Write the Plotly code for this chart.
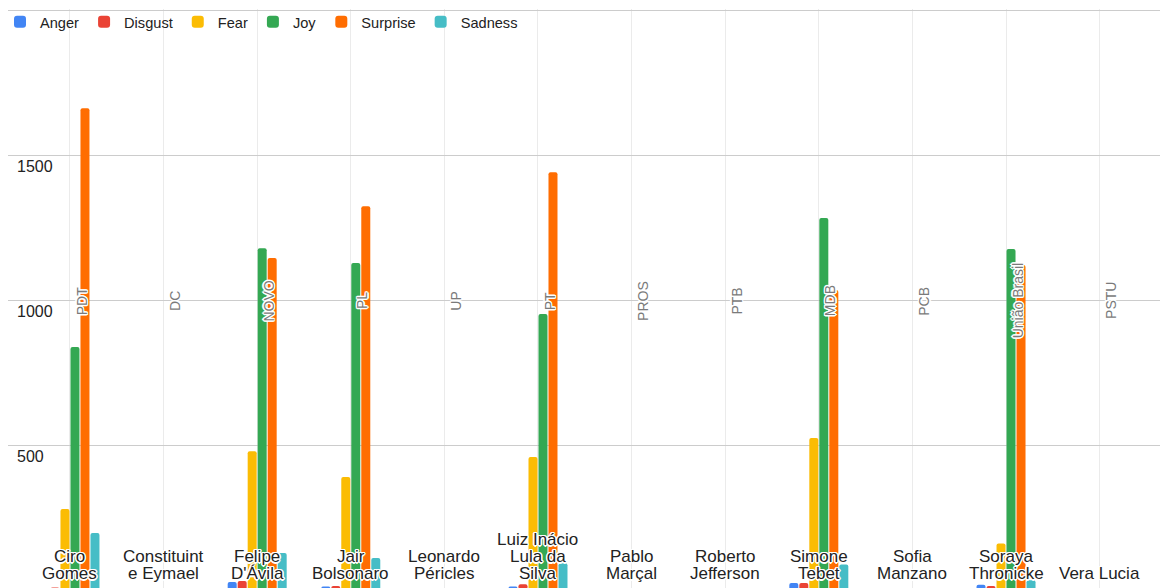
import plotly.graph_objects as go

# Candidates, their parties and how each name wraps under its bar group
candidates = ["Ciro Gomes", "Constituinte Eymael", "Felipe D'Ávila", "Jair Bolsonaro",
              "Leonardo Péricles", "Luiz Inácio Lula da Silva", "Pablo Marçal",
              "Roberto Jefferson", "Simone Tebet", "Sofia Manzano",
              "Soraya Thronicke", "Vera Lucia"]
parties = ["PDT", "DC", "NOVO", "PL", "UP", "PT", "PROS", "PTB", "MDB", "PCB",
           "União Brasil", "PSTU"]
label_lines = [["Ciro", "Gomes"], ["Constituint", "e Eymael"], ["Felipe", "D'Ávila"],
               ["Jair", "Bolsonaro"], ["Leonardo", "Péricles"],
               ["Luiz Inácio", "Lula da", "Silva"], ["Pablo", "Marçal"],
               ["Roberto", "Jefferson"], ["Simone", "Tebet"], ["Sofia", "Manzano"],
               ["Soraya", "Thronicke"], ["Vera Lucia"]]

# Emotion counts per candidate
anger    = [6, 0, 28, 12, 0, 12, 0, 0, 24, 0, 18, 0]
disgust  = [9, 0, 31, 14, 0, 20, 0, 0, 24, 0, 14, 0]
fear     = [279, 0, 479, 390, 0, 459, 0, 0, 524, 0, 160, 0]
joy      = [838, 0, 1179, 1128, 0, 952, 0, 0, 1283, 0, 1176, 0]
surprise = [1662, 0, 1145, 1324, 0, 1441, 0, 0, 1035, 0, 1121, 0]
sadness  = [197, 0, 128, 110, 0, 92, 0, 0, 88, 0, 34, 0]

series = [("Anger", anger, "#4285F4"), ("Disgust", disgust, "#EA4335"),
          ("Fear", fear, "#FBBC04"), ("Joy", joy, "#34A853"),
          ("Surprise", surprise, "#FF6D01"), ("Sadness", sadness, "#46BDC6")]

y_ticks = [500, 1000, 1500, 2000]
y_tick_text = ["500", "1000", "1500", ""]

FONT = "Arial, 'Liberation Sans', sans-serif"
HALO = ("1.5px 0 0 #fff, -1.5px 0 0 #fff, 0 1.5px 0 #fff, 0 -1.5px 0 #fff, "
        "1px 1px 0 #fff, -1px -1px 0 #fff, 1px -1px 0 #fff, -1px 1px 0 #fff")

x_idx = list(range(len(candidates)))

fig = go.Figure()
for name, vals, color in series:
    fig.add_trace(go.Bar(
        x=x_idx, y=vals, name=name,
        marker=dict(color=color, line=dict(width=0), cornerradius=2),
    ))

annotations = []
# Party names as rotated labels beside each category line
for i, p in enumerate(parties):
    annotations.append(dict(
        x=i, y=0.496, xref="x", yref="paper", text=p, textangle=-90,
        showarrow=False, xshift=11.5, xanchor="center", yanchor="middle",
        font=dict(family=FONT, size=14, color="#7a7a7a", shadow=HALO),
    ))
# Candidate names, one annotation per wrapped line, stacked upward from the bottom
LINE_STEP = 17
for i, lines in enumerate(label_lines):
    n = len(lines)
    for k, line in enumerate(lines):
        annotations.append(dict(
            x=i, y=0, xref="x", yref="paper", text=line, showarrow=False,
            xanchor="center", yanchor="middle",
            yshift=15 + LINE_STEP * (n - 1 - k),
            font=dict(family=FONT, size=17, color="#222222", shadow=HALO),
        ))

# The chart baseline sits just below the bottom edge of the page
fig.update_layout(
    width=1160, height=588,
    margin=dict(l=8, r=0, t=9, b=0, autoexpand=False),
    paper_bgcolor="white", plot_bgcolor="white",
    barmode="group", bargap=0.359, bargroupgap=0.1,
    font=dict(family=FONT, color="#222222"),
    showlegend=True,
    legend=dict(
        orientation="h", xref="container", yref="container",
        x=-0.002, y=0.99, xanchor="left", yanchor="top",
        bgcolor="rgba(0,0,0,0)", font=dict(family=FONT, size=14.6, color="#222222"),
        traceorder="normal",
    ),
    xaxis=dict(
        range=[-0.662, 11.645], showticklabels=False, ticks="",
        showgrid=True, gridcolor="#ebebeb", gridwidth=1,
        zeroline=False, showline=False, tickmode="array", tickvals=x_idx,
    ),
    yaxis=dict(
        range=[6.9, 2004], tickmode="array", tickvals=y_ticks, ticktext=y_tick_text,
        showgrid=True, gridcolor="#cccccc", gridwidth=1, zeroline=False,
        showline=False, ticks="", ticklabelposition="inside",
        ticklabelstandoff=6, ticklabelshift=11,
        tickfont=dict(family=FONT, size=16, color="#222222"),
    ),
    annotations=annotations,
)

fig.write_html("out.html")
